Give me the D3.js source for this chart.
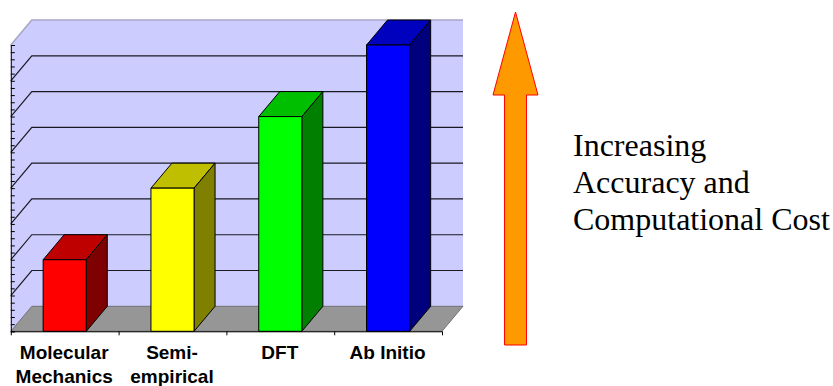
<!DOCTYPE html>
<html>
<head>
<meta charset="utf-8">
<script src="https://cdn.jsdelivr.net/npm/d3@7/dist/d3.min.js"></script>
<style>
html, body { margin: 0; padding: 0; background: #fff; }
svg { display: block; }
</style>
</head>
<body>
<svg id="chart" width="833" height="386"></svg>
<script>
// Methods and their relative cost
const categories = [["Molecular", "Mechanics"], ["Semi-", "empirical"], ["DFT"], ["Ab Initio"]];
const values = [2, 4, 6, 8];
const yMajorTicks = [0, 1, 2, 3, 4, 5, 6, 7, 8];
const yMinorTicks = d3.range(0, 40).map(i => i / 5);
const barFront = ["#ff0000", "#ffff00", "#00ff00", "#0000ff"];
const barTop = ["#bf0000", "#bfbf00", "#00bf00", "#0000bf"];
const barSide = ["#7f0000", "#7f7f00", "#007f00", "#00007f"];
const annotation = ["Increasing", "Accuracy and", "Computational Cost"];

const svg = d3.select("#chart");

// Oblique projection of the 3D plot box
const depthX = 21, depthY = -25;
const x = d3.scaleBand().domain(d3.range(categories.length)).range([10.8, 442]).paddingInner(0).paddingOuter(0);
const y = d3.scaleLinear().domain([0, 8]).range([331.3, 45]);
const left = x.range()[0], right = x.range()[1];
const barW = x.bandwidth() * 0.4;
const poly = pts => pts.map(p => p.join(",")).join(" ");

// Back wall and side wall
svg.append("polygon")
  .attr("points", poly([[left, y(0)], [left + depthX, y(0) + depthY], [right + depthX, y(0) + depthY],
                        [right + depthX, y(8) + depthY], [left + depthX, y(8) + depthY], [left, y(8)]]))
  .attr("fill", "#ccccff");

// Floor
svg.append("polygon")
  .attr("points", poly([[left, y(0)], [left + depthX, y(0) + depthY], [right + depthX, y(0) + depthY], [right, y(0)]]))
  .attr("fill", "#969696").attr("stroke", "#5f5f5f").attr("stroke-width", 0.8);

// Gridlines across the wall, folding down the side wall
const gridG = svg.append("g").attr("fill", "none");
yMajorTicks.filter(d => d > 0).forEach(d => {
  const top = d === 8;
  gridG.append("polyline")
    .attr("points", poly([[left, y(d)], [left + depthX, y(d) + depthY], [right + depthX, y(d) + depthY]]))
    .attr("stroke", top ? "#a6a6c6" : "#1a1a22")
    .attr("stroke-width", top ? 1.6 : 1.2);
});

// Bars: top, side, then front face
const bars = svg.append("g").selectAll("g").data(values).join("g");
const bx = (d, i) => x(i) + (x.bandwidth() - barW) / 2;
const edge = { stroke: "#000", "stroke-width": 1 };
function face(sel, pts, fill) {
  sel.append("polygon").attr("points", pts).attr("fill", fill)
    .attr("stroke", edge.stroke).attr("stroke-width", edge["stroke-width"]).attr("stroke-linejoin", "round");
}
bars.each(function (d, i) {
  const g = d3.select(this);
  const x0 = bx(d, i), x1 = x0 + barW, yt = y(d), yb = y(0);
  face(g, poly([[x0, yt], [x0 + depthX, yt + depthY], [x1 + depthX, yt + depthY], [x1, yt]]), barTop[i]);
  face(g, poly([[x1, yt], [x1 + depthX, yt + depthY], [x1 + depthX, yb + depthY], [x1, yb]]), barSide[i]);
  face(g, poly([[x0, yt], [x1, yt], [x1, yb], [x0, yb]]), barFront[i]);
});

// Value axis with inward minor ticks and no labels
const yAxis = svg.append("g").attr("transform", `translate(${left},0)`)
  .call(d3.axisRight(y).tickValues(yMinorTicks.concat([8])).tickSize(4).tickFormat(""));
yAxis.selectAll("path,line").attr("stroke", "#000").attr("stroke-width", 1);

// Category axis
const xEdges = d3.range(categories.length + 1).map(i => left + i * x.step());
const xAxis = svg.append("g").attr("transform", `translate(0,${y(0)})`)
  .call(d3.axisBottom(d3.scaleLinear().domain([left, right]).range([left, right]))
    .tickValues(xEdges).tickSize(4).tickFormat(""));
xAxis.selectAll("path,line").attr("stroke", "#000").attr("stroke-width", 1);
xAxis.select("path").attr("d", `M${left},0.5H${right}`);

// Category labels
const labels = svg.append("g")
  .attr("font-family", "'Liberation Sans', Arial, sans-serif")
  .attr("font-weight", "bold").attr("font-size", 19).attr("text-anchor", "middle").attr("fill", "#000");
categories.forEach((lines, i) => {
  lines.forEach((t, j) => {
    labels.append("text").attr("x", x(i) + x.bandwidth() / 2 - 0.5).attr("y", 359 + j * 24).text(t);
  });
});

// Increasing-cost arrow
const arrowX = d3.scaleLinear().domain([-1, 1]).range([493, 538]);
const arrowPts = [[0, 12], [1, 95], [0.49, 95], [0.49, 345], [-0.49, 345], [-0.49, 95], [-1, 95]];
svg.append("polygon")
  .attr("points", poly(arrowPts.map(p => [arrowX(p[0]), p[1]])))
  .attr("fill", "#ff9900").attr("stroke", "#ff0000").attr("stroke-width", 1);

// Annotation beside the arrow
svg.append("g").attr("font-family", "'Liberation Serif', 'Times New Roman', serif")
  .attr("font-size", 32).attr("fill", "#000")
  .selectAll("text").data(annotation).join("text")
  .attr("x", 573).attr("y", (d, i) => 155.5 + i * 37).text(d => d);
</script>
</body>
</html>
